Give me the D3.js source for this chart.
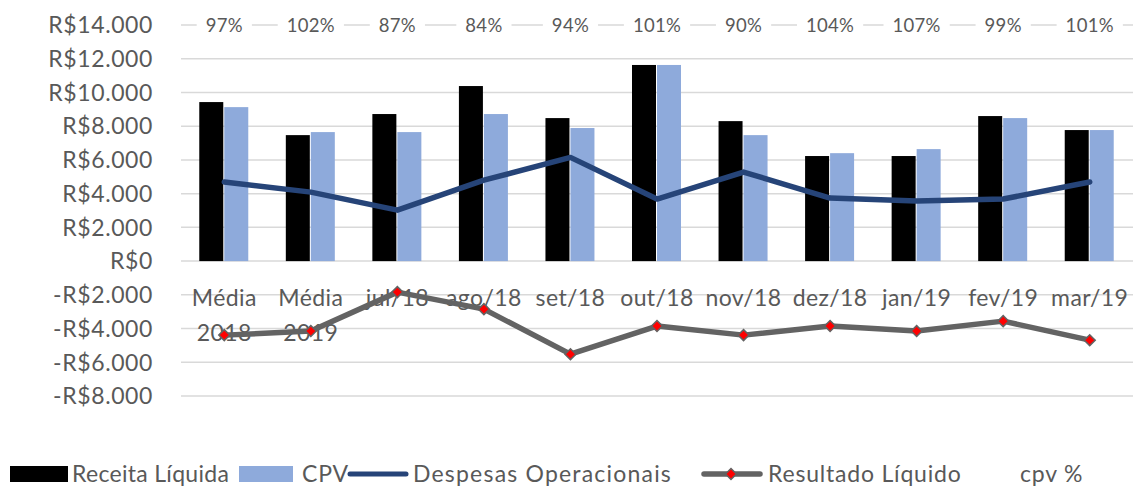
<html>
<head>
<style>
  body { margin: 0; background: #fff; }
  text { font-family: Lato, "Open Sans", sans-serif; fill: #595959; }
</style>
</head>
<body>
<svg id="chart"></svg>
<script src="https://cdn.jsdelivr.net/npm/d3@7"></script>
<script>
// data
let categories = ["Média 2018", "Média 2019", "jul/18", "ago/18", "set/18", "out/18", "nov/18", "dez/18", "jan/19", "fev/19", "mar/19"]
let receita = [9430, 7470, 8720, 10380, 8480, 11630, 8300, 6230, 6230, 8600, 7770]
let cpv = [9130, 7650, 7650, 8720, 7890, 11630, 7470, 6400, 6640, 8480, 7770]
let despesas = [4690, 4090, 3020, 4800, 6150, 3680, 5280, 3740, 3560, 3680, 4690]
let resultado = [-4390, -4150, -1840, -2850, -5520, -3850, -4390, -3850, -4150, -3560, -4690]
let cpvPct = ["97%", "102%", "87%", "84%", "94%", "101%", "90%", "104%", "107%", "99%", "101%"]
let yTicks = [-8000, -6000, -4000, -2000, 0, 2000, 4000, 6000, 8000, 10000, 12000, 14000]

// setup
let width = 1139, height = 487
let plot = { left: 181, right: 1133, top: 25, bottom: 396 }

let svg = d3.select("#chart").attr("width", width).attr("height", height)

let x = d3.scaleBand().domain(categories).range([plot.left, plot.right]).padding(0)
let groupW = 50
let xSeries = d3.scaleBand().domain(["receita", "cpv"]).range([-groupW / 2, groupW / 2])
let y = d3.scaleLinear().domain([-8000, 14000]).range([plot.bottom, plot.top])
let cx = d => x(d) + x.bandwidth() / 2

function money(v) {
    let s = d3.format(",")(Math.abs(v)).replace(/,/g, ".")
    return (v < 0 ? "-" : "") + "R$" + s
}

// gridlines
svg.append("g").selectAll("line")
    .data(yTicks)
    .enter().append("line")
    .attr("x1", plot.left).attr("x2", plot.right)
    .attr("y1", d => y(d)).attr("y2", d => y(d))
    .attr("stroke", "#d9d9d9").attr("stroke-width", 1.5)

// y axis labels
svg.append("g").selectAll("text")
    .data(yTicks)
    .enter().append("text")
    .attr("x", 153)
    .attr("y", d => y(d))
    .attr("dy", "0.36em")
    .attr("text-anchor", "end")
    .style("font-size", "23px")
    .style("letter-spacing", "0.6px")
    .text(d => money(d))

// bars
let bars = svg.append("g")
bars.selectAll(".rec")
    .data(categories)
    .enter().append("rect")
    .attr("x", d => cx(d) + xSeries("receita"))
    .attr("width", xSeries.bandwidth() - 1)
    .attr("y", (d, i) => y(receita[i]))
    .attr("height", (d, i) => y(0) - y(receita[i]))
    .attr("fill", "#000")
bars.selectAll(".cpv")
    .data(categories)
    .enter().append("rect")
    .attr("x", d => cx(d) + xSeries("cpv"))
    .attr("width", xSeries.bandwidth() - 1)
    .attr("y", (d, i) => y(cpv[i]))
    .attr("height", (d, i) => y(0) - y(cpv[i]))
    .attr("fill", "#8eaadb")

// x labels
let xl = svg.append("g").selectAll("text")
    .data(categories)
    .enter().append("text")
    .attr("text-anchor", "middle")
    .style("font-size", "23px")
    .style("letter-spacing", "0.4px")
    .attr("y", 306)
xl.each(function (d) {
    let parts = d.startsWith("Média") ? d.split(" ") : [d]
    d3.select(this).selectAll("tspan")
        .data(parts)
        .enter().append("tspan")
        .attr("x", cx(d))
        .attr("dy", (p, i) => i == 0 ? 0 : 35)
        .text(p => p)
})

// despesas line
let line = d3.line().x((d, i) => cx(categories[i])).y(d => y(d))
svg.append("path")
    .attr("d", line(despesas))
    .attr("fill", "none")
    .attr("stroke", "#264478")
    .attr("stroke-width", 5.5)
    .attr("stroke-linejoin", "round")
    .attr("stroke-linecap", "round")

// resultado line
svg.append("path")
    .attr("d", line(resultado))
    .attr("fill", "none")
    .attr("stroke", "#636363")
    .attr("stroke-width", 5.5)
    .attr("stroke-linejoin", "round")
    .attr("stroke-linecap", "round")

// square turned 45 degrees = excel diamond marker
let diamond = d3.symbol().type(d3.symbolSquare).size(60)
svg.append("g").selectAll("path")
    .data(resultado)
    .enter().append("path")
    .attr("d", diamond)
    .attr("transform", (d, i) => `translate(${cx(categories[i])},${y(d)}) rotate(45)`)
    .attr("fill", "#ff0000")
    .attr("stroke", "#636363")
    .attr("stroke-width", 1.5)

// cpv % labels sitting on the top gridline
let pct = svg.append("g").selectAll("g")
    .data(cpvPct)
    .enter().append("g")
    .attr("transform", (d, i) => `translate(${cx(categories[i])},${y(14000)})`)
pct.append("text")
    .attr("text-anchor", "middle")
    .attr("dy", "0.4em")
    .style("font-size", "18.5px")
    .style("letter-spacing", "0.3px")
    .text(d => d)
pct.each(function () {
    let t = d3.select(this).select("text")
    let w = t.node().getComputedTextLength()
    d3.select(this).insert("rect", "text")
        .attr("x", -w / 2 - 9).attr("width", w + 18)
        .attr("y", -6).attr("height", 12)
        .attr("fill", "#fff")
})

// legend
let lg = svg.append("g").attr("transform", "translate(0,474)")
let lgText = (xPos, s, ls) => lg.append("text").attr("x", xPos).attr("dy", "0.36em")
    .style("font-size", "23px").style("letter-spacing", ls + "px").text(s)
lg.append("rect").attr("x", 10).attr("y", -8).attr("width", 58).attr("height", 16).attr("fill", "#000")
lgText(72, "Receita Líquida", 0.3)
lg.append("rect").attr("x", 239).attr("y", -8).attr("width", 54).attr("height", 16).attr("fill", "#8eaadb")
lgText(302, "CPV", 0.8)
lg.append("line").attr("x1", 350).attr("x2", 406).attr("stroke", "#264478").attr("stroke-width", 5).attr("stroke-linecap", "round")
lgText(413, "Despesas Operacionais", 1.2)
lg.append("line").attr("x1", 704).attr("x2", 760).attr("stroke", "#636363").attr("stroke-width", 5.5).attr("stroke-linecap", "round")
lg.append("path").attr("d", diamond).attr("transform", "translate(731,0) rotate(45)")
    .attr("fill", "#ff0000").attr("stroke", "#636363").attr("stroke-width", 1.5)
lgText(768, "Resultado Líquido", 0.8)
lgText(1020, "cpv %", 0.8)
</script>
</body>
</html>
